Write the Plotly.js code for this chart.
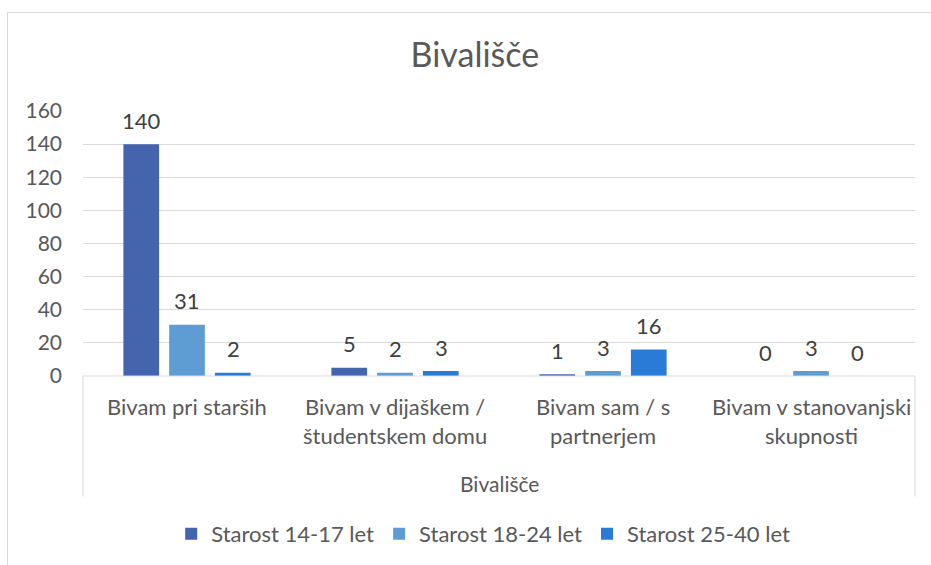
<!DOCTYPE html>
<html>
<head>
<meta charset="utf-8">
<script src="https://cdn.plot.ly/plotly-3.0.1.min.js"></script>
<style>
  body { margin: 0; background: #fff; }
  #chart { width: 931px; height: 565px; }
  #frame {
    position: absolute; left: 7px; top: 12px; width: 940px; height: 600px;
    border-left: 1px solid #d9d9d9; border-top: 1px solid #d9d9d9;
    pointer-events: none;
  }
</style>
</head>
<body>
<div id="chart"></div>
<div id="frame"></div>
<script>
const categories = [
  "Bivam pri starših",
  "Bivam v dijaškem / študentskem domu",
  "Bivam sam / s partnerjem",
  "Bivam v stanovanjski skupnosti"
];
// how each category label wraps on the axis
const categoryLines = [
  ["Bivam pri starših"],
  ["Bivam v dijaškem /", "študentskem domu"],
  ["Bivam sam / s", "partnerjem"],
  ["Bivam v stanovanjski", "skupnosti"]
];
const seriesNames = ["Starost 14-17 let", "Starost 18-24 let", "Starost 25-40 let"];
const age14to17 = [140, 5, 1, 0];
const age18to24 = [31, 2, 3, 3];
const age25to40 = [2, 3, 16, 0];
const groupTitle = "Bivališče";
const chartTitle = "Bivališče";

const colors = ["#4564ae", "#5e9dd4", "#2a7bd6"];
const FONT = "Lato, 'Open Sans', sans-serif";
const seriesValues = [age14to17, age18to24, age25to40];

const traces = seriesValues.map((vals, i) => ({
  type: "bar",
  name: seriesNames[i],
  x: categories,
  y: vals,
  marker: { color: colors[i] },
  hoverinfo: "skip"
}));

const annotations = [];

// data labels above the bars
seriesValues.forEach((vals, i) => {
  vals.forEach((v, j) => {
    annotations.push({
      x: categories[j], y: v, xref: "x", yref: "y",
      text: String(v), showarrow: false,
      xshift: (i - 1) * 46, yshift: 24, yanchor: "middle",
      font: { family: FONT, size: 22, color: "#404040" }
    });
  });
});

// category labels, wrapped like the original
categoryLines.forEach((lines, j) => {
  lines.forEach((line, k) => {
    annotations.push({
      x: categories[j], y: 0, xref: "x", yref: "paper",
      text: line, showarrow: false,
      yshift: -30 - 29 * k, yanchor: "middle",
      font: { family: FONT, size: 22, color: "#595959" }
    });
  });
});

annotations.push({
  x: 0.5, y: 0, xref: "paper", yref: "paper",
  text: groupTitle, showarrow: false,
  yshift: -107, yanchor: "middle",
  font: { family: FONT, size: 21, color: "#595959" }
});

const axisBox = "#d9d9d9";
const shapes = [
  { type: "line", xref: "paper", yref: "paper", x0: 0, x1: 1, y0: 0, y1: 0, line: { color: axisBox, width: 1 } },
  { type: "line", xref: "paper", yref: "paper", x0: 0, x1: 0, y0: 0, y1: -0.455, line: { color: axisBox, width: 1 } },
  { type: "line", xref: "paper", yref: "paper", x0: 1, x1: 1, y0: 0, y1: -0.455, line: { color: axisBox, width: 1 } }
];

Plotly.newPlot("chart", traces, {
  width: 931,
  height: 565,
  paper_bgcolor: "#fff",
  plot_bgcolor: "#fff",
  margin: { l: 83, r: 16, t: 111, b: 188 },
  title: {
    text: chartTitle,
    x: 0.471, xref: "paper", xanchor: "center",
    y: 57, yref: "container", yanchor: "middle",
    font: { family: FONT, size: 34, color: "#595959" }
  },
  barmode: "group",
  bargap: 0.34,
  bargroupgap: 0.22,
  xaxis: {
    type: "category",
    showticklabels: false,
    showgrid: false,
    showline: false,
    zeroline: false
  },
  yaxis: {
    range: [0, 160],
    dtick: 20,
    showgrid: true,
    gridcolor: "#d9d9d9",
    gridwidth: 1,
    zeroline: false,
    showline: false,
    ticks: "",
    ticklabelstandoff: 20,
    tickfont: { family: FONT, size: 21, color: "#595959" }
  },
  showlegend: true,
  legend: {
    orientation: "h",
    x: 0.481, xanchor: "center",
    y: -0.59, yanchor: "middle",
    font: { family: FONT, size: 22, color: "#595959" },
    itemwidth: 30,
    traceorder: "normal"
  },
  annotations: annotations,
  shapes: shapes
}, { displayModeBar: false, staticPlot: true });
</script>
</body>
</html>
